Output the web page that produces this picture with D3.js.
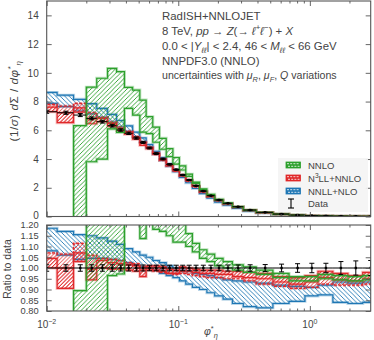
<!DOCTYPE html>
<html>
<head>
<meta charset="utf-8">
<script src="https://cdn.jsdelivr.net/npm/d3@7"></script>
<style>
  body { margin: 0; background: #fff; }
  text { font-family: "Liberation Sans", Arial, sans-serif; fill: #444; }
</style>
</head>
<body>
<svg id="chart" width="374" height="340"></svg>
<script>
// phi*_eta bin edges
const edges = [0.008, 0.012, 0.016, 0.020, 0.024, 0.029, 0.034, 0.039, 0.045, 0.051, 0.057,
  0.064, 0.072, 0.081, 0.091, 0.102, 0.114, 0.128, 0.145, 0.165, 0.189, 0.219, 0.258,
  0.312, 0.391, 0.524, 0.695, 0.918, 1.153, 1.496, 1.947, 2.522, 3.277];

// data (1/sigma dSigma/dphi*) and relative errors
const dataVal = [7.29, 7.22, 7.06, 6.83, 6.60, 6.32, 6.02, 5.79, 5.46, 5.16, 4.77, 4.38, 4.00,
  3.63, 3.26, 2.89, 2.54, 2.14, 1.77, 1.45, 1.15, 0.92, 0.68, 0.45, 0.29, 0.17, 0.10, 0.06,
  0.04, 0.025, 0.015, 0.01];
const dataErr = [0.015, 0.015, 0.015, 0.015, 0.015, 0.015, 0.014, 0.014, 0.014, 0.014, 0.013,
  0.013, 0.013, 0.013, 0.013, 0.013, 0.013, 0.013, 0.013, 0.013, 0.013, 0.014, 0.014, 0.015,
  0.016, 0.018, 0.02, 0.022, 0.022, 0.03, 0.033, 0.035];

// theory / data
const nnloLo = [null, null, -0.2, 0.558, 0.606, 0.965, 0.972, 1.30, 1.293, 1.137, 1.21, 1.18,
  1.17, 1.15, 1.12, 1.12, 1.10, 1.075, 1.045, 1.03, 1.01, 1.0, 0.99, 0.98, 0.97, 0.955, 0.94,
  0.94, 0.95, 0.945, 0.94, 0.945];
const nnloHi = [null, null, 0.895, 1.318, 1.458, 1.631, 1.674, 1.553, 1.612, 1.57, 1.457, 1.42,
  1.36, 1.3, 1.26, 1.22, 1.16, 1.115, 1.085, 1.065, 1.045, 1.03, 1.015, 1.005, 0.99, 0.975,
  0.96, 0.96, 0.97, 0.965, 0.96, 0.965];

const n3llLo = [1.00, 0.905, 1.03, 0.945, 1.00, 0.995, 0.995, 0.99, 0.985, 0.96, 0.99, 0.99,
  0.985, 0.975, 0.975, 0.985, 0.985, 0.98, 0.975, 0.975, 0.97, 0.97, 0.96, 0.955, 0.95, 0.935,
  0.925, 0.935, 0.955, 0.945, 0.94, 0.95];
const n3llHi = [1.045, 1.00, 1.07, 0.995, 1.035, 1.025, 1.02, 1.015, 1.01, 0.99, 1.01, 1.01,
  1.005, 0.995, 0.99, 1.005, 1.0, 0.995, 0.99, 0.99, 0.99, 0.985, 0.985, 0.98, 0.975, 0.96,
  0.955, 0.965, 0.985, 0.975, 0.965, 0.98];
const n3llDash = [1.07, 1.065, 1.115, 1.06, 1.045, 1.04, 1.035, 1.025, 1.02, 1.005, 1.0, 0.985,
  0.98, 0.975, 0.97, 0.975, 0.97, 0.965, 0.96, 0.955, 0.955, 0.95, 0.95, 0.94, 0.925, 0.915,
  0.905, 0.91, 0.925, 0.92, 0.92, 0.925];

const nnllLo = [1.08, 1.06, 1.04, 1.045, 1.045, 1.04, 1.035, 1.025, 1.015, 1.005, 1.0, 0.99,
  0.975, 0.965, 0.955, 0.94, 0.925, 0.91, 0.9, 0.885, 0.87, 0.855, 0.835, 0.82, 0.815, 0.835,
  0.845, 0.87, 0.875, 0.84, 0.835, 0.84];
const nnllHi = [1.185, 1.17, 1.155, 1.15, 1.14, 1.125, 1.11, 1.09, 1.075, 1.06, 1.05, 1.035,
  1.025, 1.01, 1.0, 0.99, 0.985, 0.975, 0.97, 0.965, 0.955, 0.945, 0.94, 0.935, 0.93, 0.92,
  0.915, 0.91, 0.92, 0.935, 0.93, 0.935];

const topTicks = [0, 2, 4, 6, 8, 10, 12, 14];
const ratioTicks = [0.80, 0.85, 0.90, 0.95, 1.00, 1.05, 1.10, 1.15, 1.20];
const xMajor = [0.01, 0.1, 1];

const cNNLO = "#2ca02c", cN3LL = "#e0282a", cNNLL = "#1f77b4", axisCol = "#555";

const svg = d3.select("#chart");
const left = 46.7, right = 370.7;
const x = d3.scaleLog().domain([0.01, 2.9]).range([left, right]);
const yTop = d3.scaleLinear().domain([0, 15]).range([216.5, 1]);
const yRat = d3.scaleLinear().domain([0.8, 1.2]).range([311, 225]);

const xMinor = [];
[0.01, 0.1, 1].forEach(k => d3.range(2, 10).forEach(m => { if (k * m <= 2.9) xMinor.push(k * m); }));

const bins = d3.range(edges.length - 1).map(i => ({
  i, x0: edges[i], x1: edges[i + 1], c: (edges[i] + edges[i + 1]) / 2
}));

// hatch patterns
const defs = svg.append("defs");
function hatch(id, color, dir, s, w) {
  const p = defs.append("pattern").attr("id", id)
    .attr("patternUnits", "userSpaceOnUse").attr("width", s).attr("height", s);
  const d = dir > 0
    ? `M${-s / 2},${s / 2}L${s / 2},${-s / 2}M0,${s}L${s},0M${s / 2},${s * 1.5}L${s * 1.5},${s / 2}`
    : `M${-s / 2},${s / 2}L${s / 2},${s * 1.5}M0,0L${s},${s}M${s / 2},${-s / 2}L${s * 1.5},${s / 2}`;
  p.append("path").attr("d", d).style("stroke", color).style("stroke-width", w).style("fill", "none");
}
hatch("hatchNnlo", cNNLO, 1, 4.5, 0.9);
hatch("hatchN3ll", cN3LL, 1, 3.8, 0.9);
hatch("hatchNnll", cNNLL, -1, 4.5, 0.9);

function steps(lo, hi) {
  return bins.flatMap(b => {
    const l = lo(b.i), h = hi(b.i);
    return [{ x: b.x0, lo: l, hi: h }, { x: b.x1, lo: l, hi: h }];
  });
}

// outlined path with a soft halo, like the reference bands
function outline(g, d, color, dash) {
  g.append("path").attr("d", d).attr("fill", "none").attr("stroke", color)
    .attr("stroke-width", 3).attr("stroke-opacity", 0.3).attr("stroke-dasharray", dash || null);
  g.append("path").attr("d", d).attr("fill", "none").attr("stroke", color)
    .attr("stroke-width", 1.2).attr("stroke-dasharray", dash || null);
}

function panel(id, y, scaleV, y0, y1) {
  defs.append("clipPath").attr("id", id).append("rect")
    .attr("x", left).attr("y", y1).attr("width", right - left).attr("height", y0 - y1);
  const g = svg.append("g").attr("clip-path", `url(#${id})`);
  const v = (arr, i) => arr[i] == null ? null : scaleV(arr[i], i);
  const area = d3.area().defined(d => d.lo != null)
    .x(d => x(d.x)).y0(d => y(d.lo)).y1(d => y(d.hi));
  const line = d3.line().defined(d => d.lo != null).x(d => x(d.x)).y(d => y(d.lo));

  // NNLL+NLO
  const b = area(steps(i => v(nnllLo, i), i => v(nnllHi, i)));
  g.append("path").attr("d", b).attr("fill", "url(#hatchNnll)");
  outline(g, b, cNNLL);

  // N3LL+NNLO
  const env = area(steps(i => Math.min(v(n3llLo, i), v(n3llDash, i)),
    i => Math.max(v(n3llHi, i), v(n3llDash, i))));
  g.append("path").attr("d", env).attr("fill", "url(#hatchN3ll)");
  const r = area(steps(i => v(n3llLo, i), i => v(n3llHi, i)));
  g.append("path").attr("d", r).attr("fill", "url(#hatchN3ll)");
  outline(g, r, cN3LL);
  outline(g, line(steps(i => v(n3llDash, i), i => v(n3llDash, i))), cN3LL, "3,1.5");

  // NNLO
  const gr = area(steps(i => v(nnloLo, i), i => v(nnloHi, i)));
  g.append("path").attr("d", gr).attr("fill", "url(#hatchNnlo)");
  outline(g, gr, cNNLO);

  // data
  const dg = g.append("g").attr("stroke", "#000").attr("stroke-width", 1);
  bins.forEach(bn => {
    const c = y === yTop ? dataVal[bn.i] : 1;
    const e = c * dataErr[bn.i];
    const cx = x(bn.c);
    dg.append("line").attr("x1", x(bn.x0)).attr("x2", x(bn.x1)).attr("y1", y(c)).attr("y2", y(c));
    dg.append("line").attr("x1", cx).attr("x2", cx).attr("y1", y(c - e)).attr("y2", y(c + e));
    [c - e, c + e].forEach(t => dg.append("line").attr("x1", cx - 2.5).attr("x2", cx + 2.5)
      .attr("y1", y(t)).attr("y2", y(t)));
    dg.append("rect").attr("x", cx - 1.2).attr("y", y(c) - 1.2).attr("width", 2.4).attr("height", 2.4)
      .attr("fill", "#000").attr("stroke", "none");
  });

  // frame and ticks
  const ax = svg.append("g").attr("class", "ax");
  const tick = (axis, ty) => ax.append("g").attr("transform", `translate(0,${ty})`).call(axis);
  tick(d3.axisBottom(x).tickValues(xMajor).tickSize(-5).tickFormat(""), y0);
  tick(d3.axisBottom(x).tickValues(xMinor).tickSize(-2.5).tickFormat(""), y0);
  tick(d3.axisTop(x).tickValues(xMajor).tickSize(-5).tickFormat(""), y1);
  tick(d3.axisTop(x).tickValues(xMinor).tickSize(-2.5).tickFormat(""), y1);
  ax.append("rect").attr("x", left).attr("y", y1).attr("width", right - left).attr("height", y0 - y1)
    .attr("fill", "none").attr("stroke", axisCol).attr("stroke-width", 1.1);
  return ax;
}

const axTop = panel("clipTop", yTop, (r, i) => r * dataVal[i], 216.5, 1);
const axRat = panel("clipRat", yRat, r => r, 311, 225);

function yAxes(ax, y, vals, fmt, size) {
  ax.append("g").attr("class", "yl").attr("transform", `translate(${left},0)`)
    .call(d3.axisLeft(y).tickValues(vals).tickSize(-5).tickPadding(8).tickFormat(fmt))
    .selectAll("text").attr("font-size", size);
  ax.append("g").attr("transform", `translate(${right},0)`)
    .call(d3.axisRight(y).tickValues(vals).tickSize(-5).tickFormat(""));
}
yAxes(axTop, yTop, topTicks, d3.format("d"), 10);
yAxes(axRat, yRat, ratioTicks, d3.format(".2f"), 9.3);

svg.selectAll(".ax .domain").remove();
svg.selectAll(".ax .tick line").attr("stroke", axisCol).attr("stroke-width", 0.9);
svg.selectAll(".ax .tick text").attr("fill", "#555")
  .style("font-family", "'Liberation Sans', Arial, sans-serif");
axTop.selectAll(".tick text").filter(d => d === 0).attr("dy", "0.15em");

// x tick labels 10^n
const xl = svg.append("g");
xMajor.forEach(v => {
  const t = xl.append("text").attr("x", x(v)).attr("y", 328).attr("text-anchor", "middle")
    .attr("font-size", 10).attr("fill", "#555");
  t.append("tspan").text("10");
  t.append("tspan").attr("dy", -4).attr("font-size", 7).text(v === 1 ? "0" : "\u2212" + Math.round(-Math.log10(v)));
});

// rich text helper
function rich(sel, parts, size) {
  let shift = 0;
  parts.forEach(p => {
    const target = p.sup ? -size * 0.4 : p.sub ? size * 0.25 : 0;
    const ts = sel.append("tspan").attr("dy", target - shift).text(p.t);
    shift = target;
    if (p.it) ts.attr("font-style", "italic");
    if (p.sup || p.sub) ts.attr("font-size", size * 0.7);
  });
}

// axis labels
rich(svg.append("text").attr("transform", "translate(18,101) rotate(-90)")
  .attr("text-anchor", "middle").attr("font-size", 11.5).attr("letter-spacing", 0.6), [
  { t: "(1/" }, { t: "\u03c3", it: 1 }, { t: ") " }, { t: "d", it: 1 }, { t: "\u03a3 / " },
  { t: "d\u03c6", it: 1 }, { t: "*", sup: 1 }, { t: "\u03b7", sub: 1, it: 1 }
], 11.5);
svg.append("text").attr("transform", "translate(10.5,269) rotate(-90)")
  .attr("text-anchor", "middle").attr("font-size", 10.5).text("Ratio to data");
rich(svg.append("text").attr("x", 204).attr("y", 335).attr("font-size", 10.5), [
  { t: "\u03c6", it: 1 }, { t: "*", sup: 1 }, { t: "\u03b7", sub: 1, it: 1 }
], 10.5);

// annotation
const ann = [
  [{ t: "RadISH+NNLOJET" }],
  [{ t: "8 TeV, " }, { t: "pp", it: 1 }, { t: " \u2192 " }, { t: "Z", it: 1 }, { t: "(\u2192 " },
   { t: "\u2113", it: 1 }, { t: "+", sup: 1 }, { t: "\u2113", it: 1 }, { t: "\u2212", sup: 1 },
   { t: ") + " }, { t: "X", it: 1 }],
  [{ t: "0.0 < |" }, { t: "Y", it: 1 }, { t: "\u2113\u2113", sub: 1, it: 1 }, { t: "| < 2.4, 46 < " },
   { t: "M", it: 1 }, { t: "\u2113\u2113", sub: 1, it: 1 }, { t: " < 66 GeV" }],
  [{ t: "NNPDF3.0 (NNLO)" }],
  [{ t: "uncertainties with " }, { t: "\u03bc", it: 1 }, { t: "R", sub: 1, it: 1 }, { t: ", " },
   { t: "\u03bc", it: 1 }, { t: "F", sub: 1, it: 1 }, { t: ", " }, { t: "Q", it: 1 }, { t: " variations" }]
];
const annY = [20, 35, 50, 65, 79];
ann.forEach((parts, k) => {
  const size = k === 4 ? 10.6 : 11.4;
  rich(svg.append("text").attr("x", 162).attr("y", annY[k]).attr("font-size", size).attr("fill", "#222"),
    parts, size);
});

// legend
const lg = svg.append("g");
lg.append("rect").attr("x", 278).attr("y", 158).attr("width", 90).attr("height", 54)
  .attr("fill", "#f4f4f4").attr("opacity", 0.92);
const legItems = [
  { c: cNNLO, parts: [{ t: "NNLO" }] },
  { c: cN3LL, parts: [{ t: "N" }, { t: "3", sup: 1 }, { t: "LL+NNLO" }] },
  { c: cNNLL, parts: [{ t: "NNLL+NLO" }] }
];
const legY = [165, 178, 191];
legItems.forEach((it, k) => {
  const yy = legY[k];
  lg.append("rect").attr("x", 286).attr("y", yy - 3).attr("width", 14.5).attr("height", 6)
    .attr("fill", it.c).attr("stroke", it.c).attr("stroke-width", 0.8);
  [yy - 1.3, yy + 1.3].forEach((ly, j) => lg.append("line").attr("x1", 287 + j).attr("x2", 299.5)
    .attr("y1", ly).attr("y2", ly).attr("stroke", "#fff").attr("stroke-width", 0.8)
    .attr("stroke-dasharray", "2,1.2"));
  rich(lg.append("text").attr("x", 308).attr("y", yy + 3.5).attr("font-size", 9.5).attr("fill", "#555"),
    it.parts, 9.5);
});
const dl = lg.append("g").attr("stroke", "#000").attr("stroke-width", 1.1);
dl.append("line").attr("x1", 291).attr("x2", 291).attr("y1", 199).attr("y2", 208);
dl.append("line").attr("x1", 288).attr("x2", 294).attr("y1", 199).attr("y2", 199);
dl.append("line").attr("x1", 288).attr("x2", 294).attr("y1", 208).attr("y2", 208);
lg.append("text").attr("x", 308).attr("y", 207).attr("font-size", 9.5).attr("fill", "#555").text("Data");
</script>
</body>
</html>
